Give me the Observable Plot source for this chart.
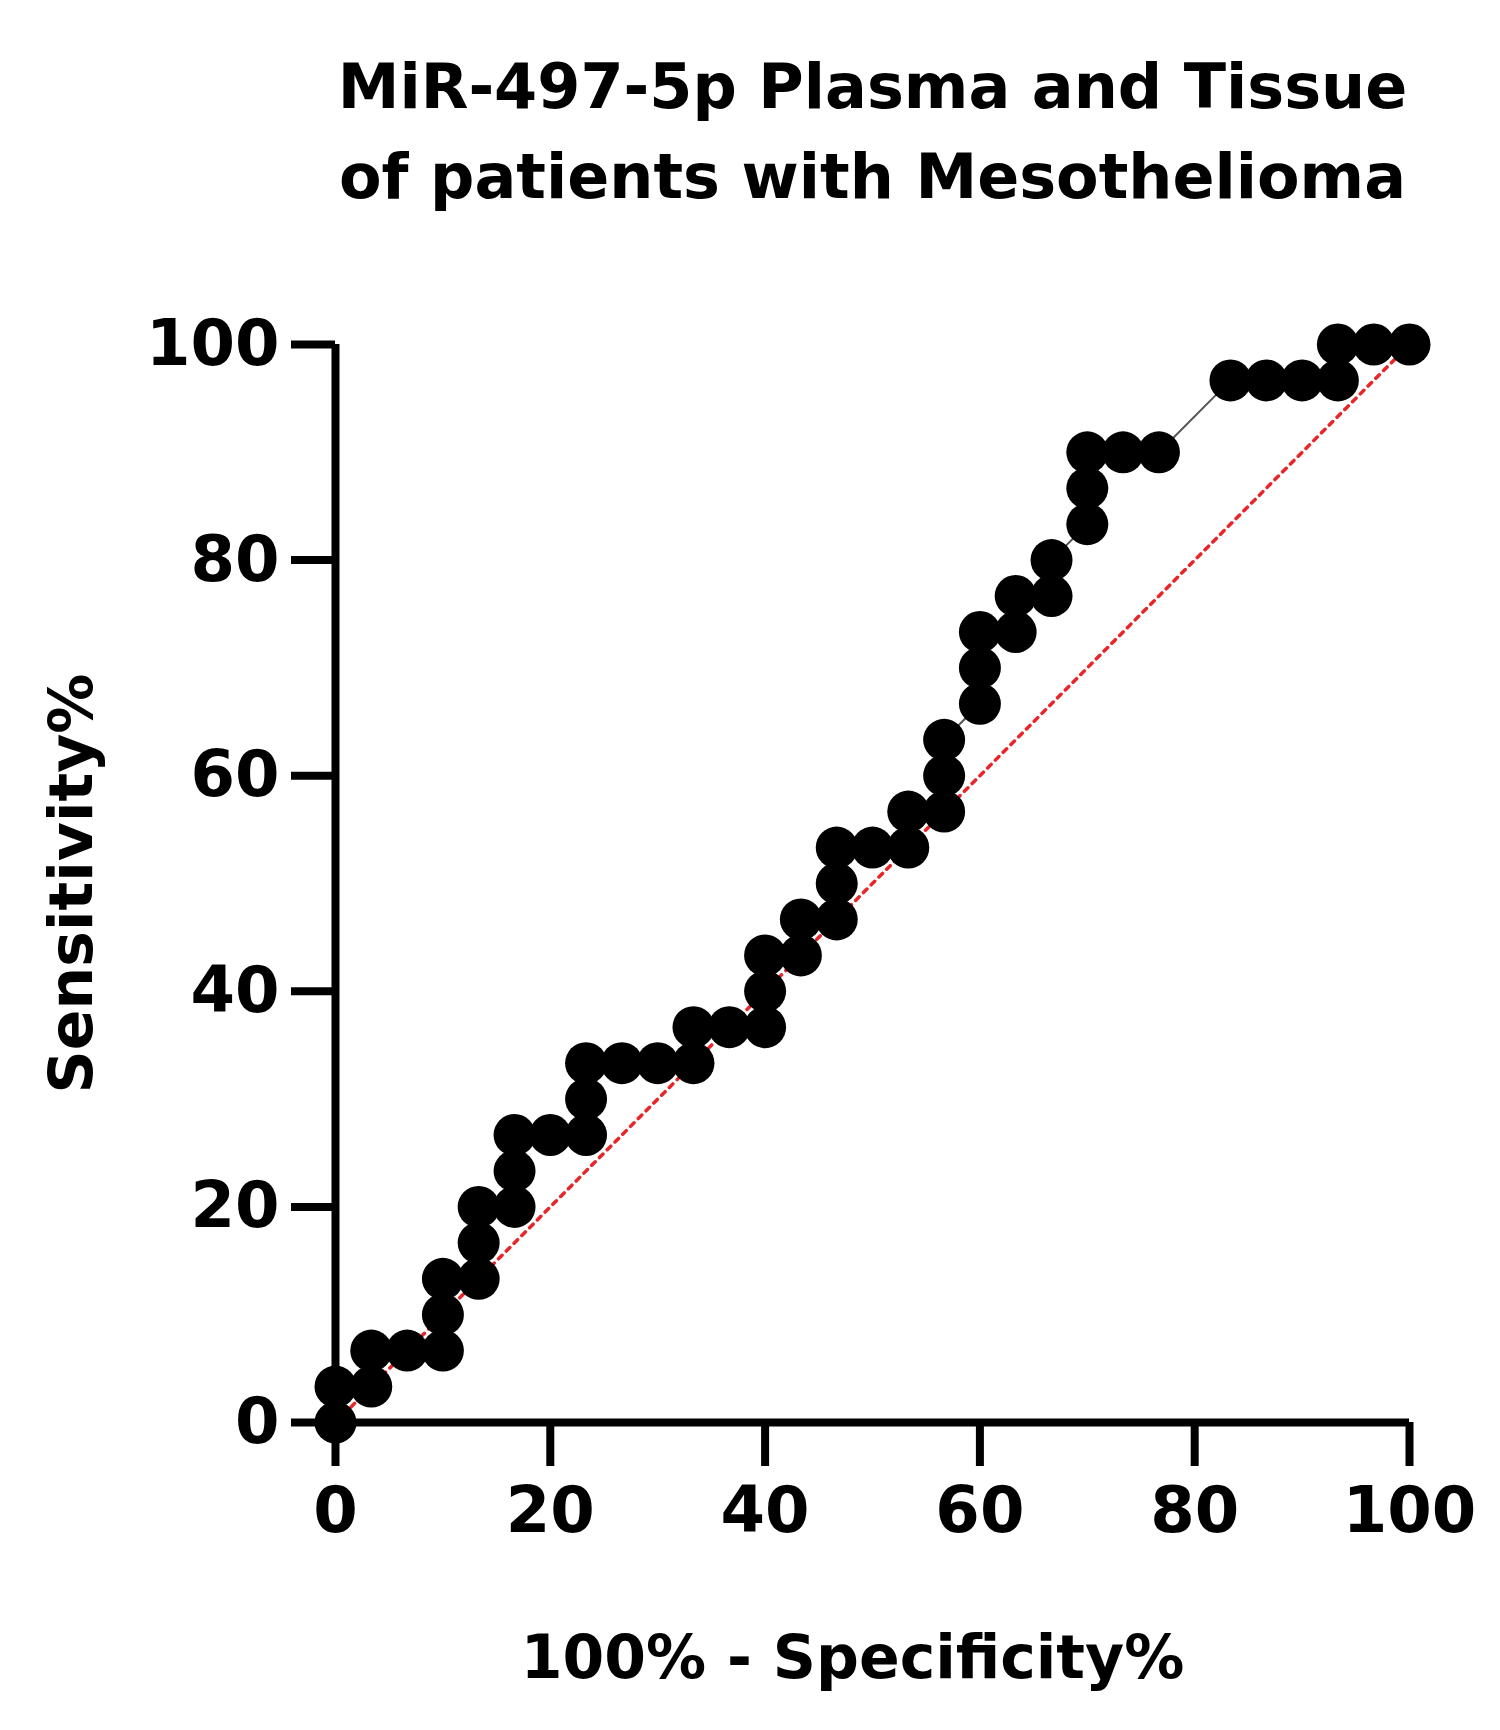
<!DOCTYPE html>
<html><head><meta charset="utf-8">
<script src="https://cdn.jsdelivr.net/npm/d3@7"></script>
<script src="https://cdn.jsdelivr.net/npm/@observablehq/plot@0.6"></script>
<style>body{margin:0;background:#fff}</style>
</head><body><div id="c"></div>
<script>
const fpr = [0,0,3.33,3.33,6.67,10,10,10,13.33,13.33,13.33,16.67,16.67,16.67,20,23.33,23.33,23.33,26.67,30,33.33,33.33,36.67,40,40,40,43.33,43.33,46.67,46.67,46.67,50,53.33,53.33,56.67,56.67,56.67,60,60,60,63.33,63.33,66.67,66.67,70,70,70,73.33,76.67,83.33,86.67,90,93.33,93.33,96.67,100];
const sens = [0,3.33,3.33,6.67,6.67,6.67,10,13.33,13.33,16.67,20,20,23.33,26.67,26.67,26.67,30,33.33,33.33,33.33,33.33,36.67,36.67,36.67,40,43.33,43.33,46.67,46.67,50,53.33,53.33,53.33,56.67,56.67,60,63.33,66.67,70,73.33,73.33,76.67,76.67,80,83.33,86.67,90,90,90,96.67,96.67,96.67,96.67,100,100,100];
const xTicks = [0,20,40,60,80,100];
const yTicks = [0,20,40,60,80,100];
const titleLines = ["MiR-497-5p Plasma and Tissue","of patients with Mesothelioma"];
const pts = fpr.map((x,i)=>({x, y: sens[i]}));
const font = "'DejaVu Sans', Verdana, sans-serif";
const chart = Plot.plot({
  width:1500, height:1730,
  marginLeft:335, marginRight:91, marginTop:344, marginBottom:308,
  x:{domain:[0,100]}, y:{domain:[0,100]},
  style:{fontFamily:font, fontWeight:"bold", color:"#000", background:"#fff", overflow:"visible"},
  marks:[
    Plot.line([{x:0,y:0},{x:100,y:100}],{x:"x",y:"y",stroke:"#e8262a",strokeWidth:3.5,strokeDasharray:"5,6"}),
    Plot.ruleY([0],{stroke:"#000",strokeWidth:8}),
    Plot.ruleX([0],{stroke:"#000",strokeWidth:8}),
    Plot.axisX(xTicks,{tickSize:44,strokeWidth:8,tickPadding:20,fontSize:64,label:null}),
    Plot.axisY(yTicks,{tickSize:44,strokeWidth:8,tickPadding:12,fontSize:64,label:null}),
    Plot.line(pts,{x:"x",y:"y",stroke:"#555",strokeWidth:2}),
    Plot.dot(pts,{x:"x",y:"y",r:21,fill:"#000"}),
    Plot.text([titleLines.join("\n")],{frameAnchor:"top",dx:0,dy:-300,fontSize:62,lineHeight:1.45,fill:"#000",fontWeight:"bold",lineAnchor:"top"}),
    Plot.text(["100% - Specificity%"],{frameAnchor:"bottom",dx:-20,dy:255,fontSize:60,fill:"#000",fontWeight:"bold"}),
    Plot.text([{x:-24.5,y:50,t:"Sensitivity%"}],{x:"x",y:"y",text:"t",rotate:-90,fontSize:60,fill:"#000",fontWeight:"bold",clip:false})
  ]
});
document.getElementById("c").append(chart);
</script></body></html>
